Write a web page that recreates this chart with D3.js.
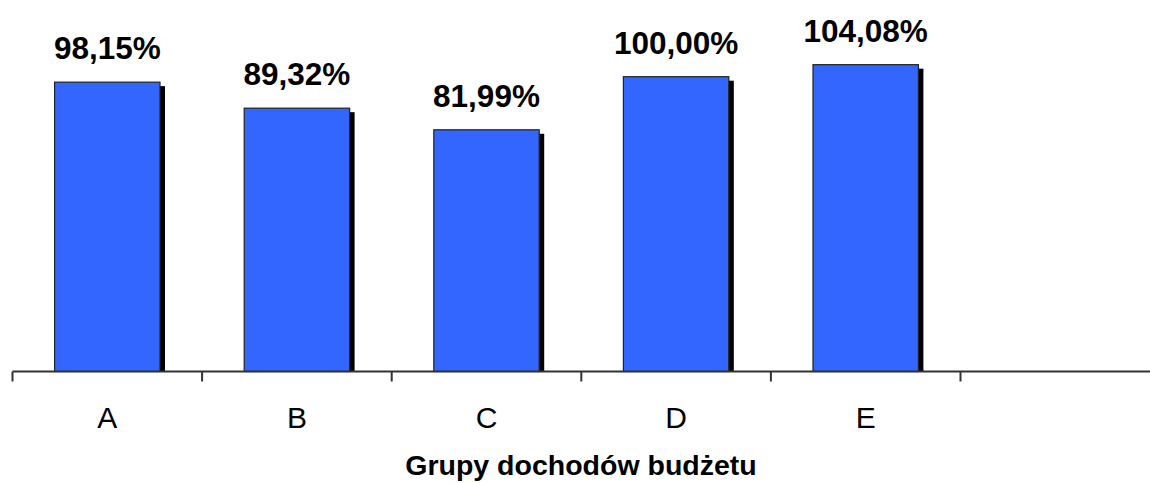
<!DOCTYPE html>
<html>
<head>
<meta charset="utf-8">
<script src="https://cdn.jsdelivr.net/npm/d3@7"></script>
<style>
  html, body { margin: 0; padding: 0; background: #fff; }
  svg { display: block; font-family: "Liberation Sans", Arial, sans-serif; }
</style>
</head>
<body>
<div id="chart"></div>
<script>
// data
const categories = ["A", "B", "C", "D", "E"];
const values = [98.15, 89.32, 81.99, 100.00, 104.08];
const valueLabels = ["98,15%", "89,32%", "81,99%", "100,00%", "104,08%"];
const axisTitle = "Grupy dochodów budżetu";

const width = 1150;
const height = 483;
const baseY = 371.5;

const svg = d3.select("#chart").append("svg")
    .attr("width", width)
    .attr("height", height);

// five filled slots plus one empty slot at the right end
const x = d3.scaleBand()
    .domain(categories)
    .range([12.5, 960.5])
    .paddingInner(0.444)
    .paddingOuter(0.222);

const step = x.step();
const slotStart = d => x(d) - step * 0.222;

const y = d3.scaleLinear()
    .domain([0, 100])
    .range([baseY, 76.7]);

const data = categories.map((c, i) => ({ cat: c, value: values[i], label: valueLabels[i] }));

// shadows
svg.append("g")
    .selectAll("rect")
    .data(data)
    .join("rect")
    .attr("x", d => x(d.cat) + 5)
    .attr("y", d => y(d.value) + 4)
    .attr("width", x.bandwidth())
    .attr("height", d => baseY - y(d.value) - 4)
    .attr("fill", "#000");

// bars
svg.append("g")
    .selectAll("rect")
    .data(data)
    .join("rect")
    .attr("x", d => x(d.cat))
    .attr("y", d => y(d.value))
    .attr("width", x.bandwidth())
    .attr("height", d => baseY - y(d.value))
    .attr("fill", "#3366ff")
    .attr("stroke", "#222")
    .attr("stroke-width", 1.2);

// axis line and ticks
const axis = svg.append("g").attr("stroke", "#333").attr("stroke-width", 2);
axis.append("line")
    .attr("x1", 12.5).attr("x2", width)
    .attr("y1", baseY).attr("y2", baseY);
const tickXs = categories.map(slotStart).concat([x.range()[1]]);
axis.selectAll("line.tick")
    .data(tickXs)
    .join("line")
    .attr("class", "tick")
    .attr("x1", d => d).attr("x2", d => d)
    .attr("y1", baseY).attr("y2", baseY + 10);

// category labels
svg.append("g")
    .selectAll("text")
    .data(data)
    .join("text")
    .attr("x", d => x(d.cat) + x.bandwidth() / 2)
    .attr("y", 428)
    .attr("text-anchor", "middle")
    .attr("font-size", 30)
    .attr("fill", "#000")
    .text(d => d.cat);

// value labels
svg.append("g")
    .selectAll("text")
    .data(data)
    .join("text")
    .attr("x", d => x(d.cat) + x.bandwidth() / 2)
    .attr("y", d => y(d.value) - 23)
    .attr("text-anchor", "middle")
    .attr("font-size", 31.5)
    .attr("font-weight", "bold")
    .attr("fill", "#000")
    .text(d => d.label);

// axis title
svg.append("text")
    .attr("x", 581)
    .attr("y", 475)
    .attr("text-anchor", "middle")
    .attr("font-size", 28.5)
    .attr("font-weight", "bold")
    .attr("fill", "#000")
    .text(axisTitle);
</script>
</body>
</html>
